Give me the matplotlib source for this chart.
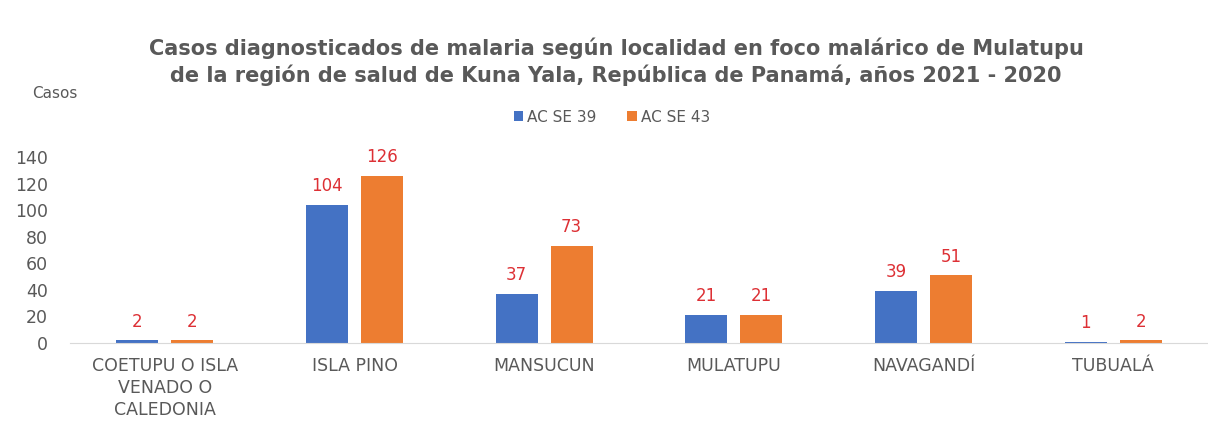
import numpy as np
from matplotlib import pyplot as plt

categories = ["COETUPU O ISLA\nVENADO O\nCALEDONIA", "ISLA PINO", "MANSUCUN",
              "MULATUPU", "NAVAGANDÍ", "TUBUALÁ"]
se39 = [2, 104, 37, 21, 39, 1]
se43 = [2, 126, 73, 21, 51, 2]
series_names = ["AC SE 39", "AC SE 43"]
yticks = [0, 20, 40, 60, 80, 100, 120, 140]

blue = "#4472C4"
orange = "#ED7D31"
gray = "#595959"
red = "#DD3035"

plt.rcParams["font.family"] = ["DejaVu Sans"]

fig = plt.figure(figsize=(12.08, 4.21), dpi=100)
ax = fig.add_axes([70 / 1208, 1 - 343 / 421, 1138 / 1208, 186 / 421])

x = np.arange(len(categories))
width = 0.22
offset = 0.145
bars1 = ax.bar(x - offset, se39, width, color=blue, label=series_names[0])
bars2 = ax.bar(x + offset, se43, width, color=orange, label=series_names[1])

# value labels above each bar
for bars in (bars1, bars2):
    for b in bars:
        ax.annotate(f"{int(b.get_height())}", (b.get_x() + b.get_width() / 2, b.get_height()),
                    xytext=(0, 7), textcoords="offset points", ha="center", va="bottom",
                    color=red, fontsize=12)

ax.set_xlim(-0.5, len(categories) - 0.5)
ax.set_ylim(0, 140)
ax.set_yticks(yticks)
ax.set_xticks(x)
ax.set_xticklabels(categories, fontsize=12.5, color=gray, linespacing=1.3)
ax.tick_params(axis="y", length=0, labelsize=12.5, labelcolor=gray, pad=16)
ax.tick_params(axis="x", length=0, pad=10)
for side in ("top", "right", "left"):
    ax.spines[side].set_visible(False)
ax.spines["bottom"].set_color("#D9D9D9")

title_x = 616 / 1208
fig.text(title_x, 1 - 48 / 421,
         "Casos diagnosticados de malaria según localidad en foco malárico de Mulatupu",
         ha="center", va="center", fontsize=15, fontweight="bold", color=gray)
fig.text(title_x, 1 - 75 / 421,
         "de la región de salud de Kuna Yala, República de Panamá, años 2021 - 2020",
         ha="center", va="center", fontsize=15, fontweight="bold", color=gray)
fig.text(32 / 1208, 1 - 94 / 421, "Casos", ha="left", va="center", fontsize=11, color=gray)

fig.legend(loc="center", bbox_to_anchor=(612 / 1208, 1 - 117 / 421), ncol=2, frameon=False,
           fontsize=11, labelcolor=gray, handlelength=0.6, handleheight=0.6,
           handletextpad=0.3, columnspacing=2.0)

fig.savefig("out.png", dpi=100)
